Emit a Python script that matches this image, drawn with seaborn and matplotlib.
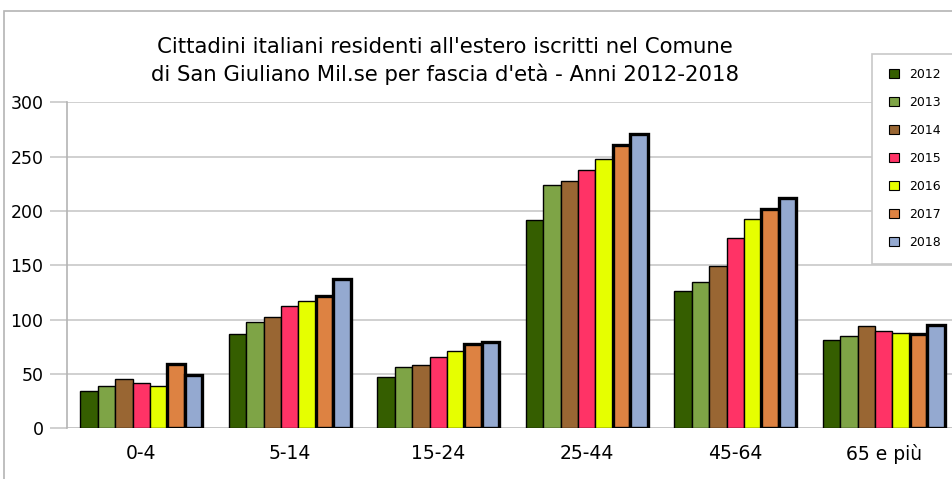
import pandas as pd
import matplotlib
matplotlib.use("Agg")
import matplotlib.pyplot as plt
import seaborn as sns
from matplotlib.patches import Patch, Rectangle

# age bands and yearly counts
fasce = ['0-4', '5-14', '15-24', '25-44', '45-64', '65 e più']
anni = ['2012', '2013', '2014', '2015', '2016', '2017', '2018']
v2012 = [34, 87, 47, 192, 126, 81]
v2013 = [39, 98, 56, 224, 135, 85]
v2014 = [45, 102, 58, 228, 149, 94]
v2015 = [42, 113, 66, 238, 175, 90]
v2016 = [39, 117, 71, 248, 193, 88]
v2017 = [59, 122, 78, 261, 202, 87]
v2018 = [49, 137, 79, 271, 212, 95]
colori = ['#355e00', '#7ea446', '#996633', '#ff3366', '#e6ff00', '#dd8242', '#94a9d0']

valori = [v2012, v2013, v2014, v2015, v2016, v2017, v2018]
rows = []
for anno, serie in zip(anni, valori):
    for f, v in zip(fasce, serie):
        rows.append({'fascia': f, 'anno': anno, 'n': v})
df = pd.DataFrame(rows)

sns.set_style('white')
plt.rcParams['font.family'] = ['DejaVu Sans']
plt.rcParams['text.color'] = 'black'
plt.rcParams['xtick.color'] = 'black'
plt.rcParams['ytick.color'] = 'black'

fig = plt.figure(figsize=(9.52, 4.79), dpi=100)
ax = fig.add_axes([67 / 952, 50.7 / 479, 891 / 952, 326 / 479])

sns.barplot(data=df, x='fascia', y='n', hue='anno', palette=colori,
            order=fasce, hue_order=anni, width=0.82, ax=ax,
            edgecolor='black', linewidth=1.0, saturation=1, errorbar=None,
            legend=False)
for i, cont in enumerate(ax.containers):
    lw = 2.4 if i >= 5 else 1.0
    for bar in cont:
        bar.set_linewidth(lw)

ax.set_xlim(-0.5, 5.5)
ax.set_ylim(0, 300)
ax.set_yticks(range(0, 301, 50))
ax.yaxis.grid(True, color='#c8c8c8', linewidth=1.2)
ax.set_axisbelow(True)
for s in ['top', 'right', 'bottom']:
    ax.spines[s].set_visible(False)
ax.spines['left'].set_color('#b4b4b4')
ax.spines['left'].set_linewidth(1.2)
ax.axhline(0, color='#b4b4b4', lw=1.2, zorder=0)

ax.set_xticks([i - 0.5 for i in range(7)], minor=True)
ax.tick_params(axis='x', which='minor', length=10, width=1.2, color='#c8c8c8', direction='out')
ax.tick_params(axis='x', which='major', length=0, labelsize=13.5, pad=11, labelcolor='black')
ax.tick_params(axis='y', length=12, width=1.2, color='#c8c8c8', labelsize=12.5, pad=5,
               left=True, labelcolor='black')
ax.set_xlabel('')
ax.set_ylabel('')

fig.text(445 / 952, 1 - 47 / 479, "Cittadini italiani residenti all'estero iscritti nel Comune",
         ha='center', va='center', fontsize=15.3)
fig.text(445 / 952, 1 - 74 / 479, "di San Giuliano Mil.se per fascia d'età - Anni 2012-2018",
         ha='center', va='center', fontsize=15.3)

# outer frame of the chart area
fig.patches.append(Rectangle((4 / 952, -0.01), 1.0, 1 - 11 / 479 + 0.01, transform=fig.transFigure,
                             fill=False, edgecolor='#b4b4b4', linewidth=1.2))

# legend box, running past the right edge like in the original
fig.patches.append(Rectangle((872 / 952, 1 - 264 / 479), 0.2, 210 / 479, transform=fig.transFigure,
                             facecolor='white', edgecolor='#c8c8c8', linewidth=1.2, zorder=5))
handles = [Patch(facecolor=c, edgecolor='black', linewidth=0.8) for c in colori]
leg = fig.legend(handles, anni, loc='upper left', bbox_to_anchor=(889 / 952, 1 - 68 / 479),
                 frameon=False, fontsize=9, handlelength=0.8, handleheight=0.8,
                 labelspacing=1.2, borderpad=0, handletextpad=0.8, borderaxespad=0)
leg.set_zorder(6)

fig.savefig('out.png', dpi=100)
